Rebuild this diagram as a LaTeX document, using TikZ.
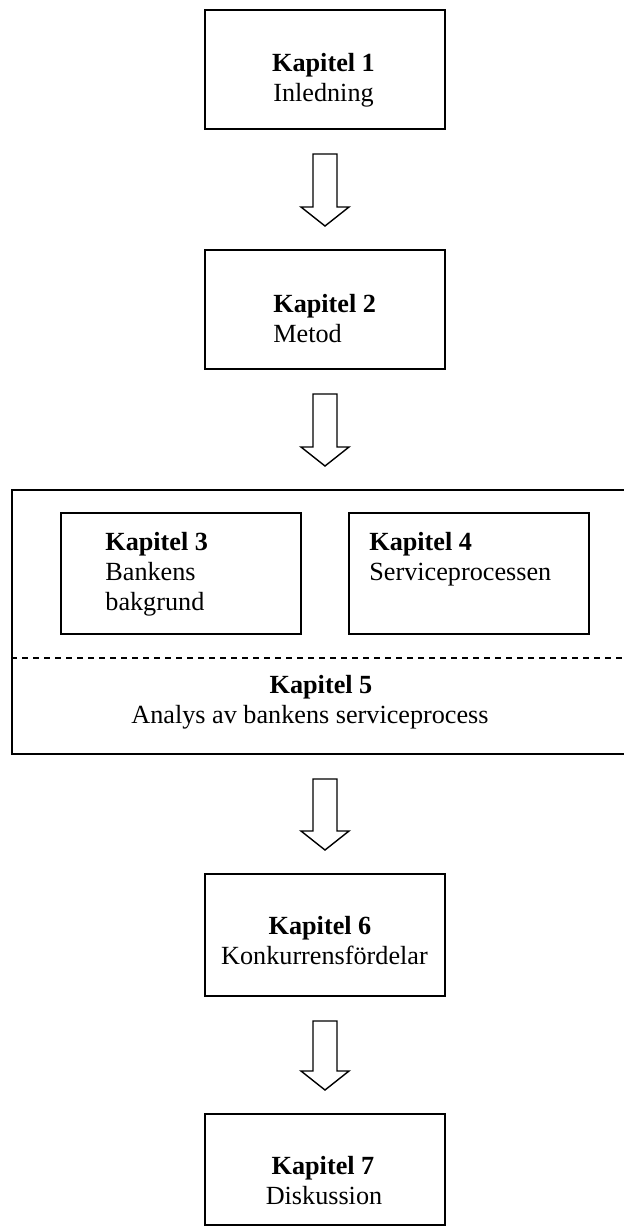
\documentclass[tikz,border=0pt]{standalone}
\usepackage{fontspec}
\setmainfont{Liberation Serif}
\usetikzlibrary{calc}

% block arrow between two stacked boxes (shaft 24, head 48 wide)
\newcommand\chapterarrow[2]{%
  \draw[blockarrow] ($(#1.south -| #2.north)+(-12,24)$) -- ++(24,0)
    -- ($(#2.north)+(12,-42)$) -- ++(12,0)
    -- ($(#2.north)+(0,-23)$)
    -- ($(#2.north)+(-24,-42)$) -- ++(12,0) -- cycle;}

\begin{document}
\begin{tikzpicture}[x=0.5pt,y=-0.5pt,
  chapbox/.style={draw,line width=1pt,inner sep=0pt,minimum width=120pt,minimum height=59.5pt},
  innerbox/.style={draw,line width=1pt,inner sep=0pt,minimum width=120pt,minimum height=60.5pt},
  blockarrow/.style={draw,line width=0.7pt,line join=miter,fill=white},
  mainlbl/.style={inner sep=0pt,anchor=base,font=\fontsize{13.1}{15}\selectfont},
  leftlbl/.style={mainlbl,anchor=base west}]

\clip (0,0) rectangle (624,1227);
\fill[white] (0,0) rectangle (624,1227);

% chapter boxes
\node[chapbox] (b1) at (325,69.5) {};
\node[chapbox] (b2) at (325,309.5) {};
\node[draw,line width=1pt,inner sep=0pt,minimum width=313pt,minimum height=132pt] (big) at (325,622) {};
\node[innerbox] (b3) at (181,573.5) {};
\node[innerbox] (b4) at (469,573.5) {};
\node[chapbox,minimum height=61pt] (b6) at (325,935) {};
\node[chapbox,minimum height=55.5pt] (b7) at (325,1169.5) {};

% divider between chapters 3/4 and chapter 5
\draw[line width=0.6pt,dash pattern=on 3pt off 2.5pt] (big.west |- 0,658) -- (big.east |- 0,658);

% labels
\node[mainlbl] (t1a) at (323.5,71) {\textbf{Kapitel 1}};
\node[mainlbl] (t1b) at (323.5,101) {Inledning};
\node[leftlbl] (t2a) at (273,312) {\textbf{Kapitel 2}};
\node[leftlbl] (t2b) at (273,342) {Metod};
\node[leftlbl] (t3a) at (105,550) {\textbf{Kapitel 3}};
\node[leftlbl] (t3b) at (105,580) {Bankens};
\node[leftlbl] (t3c) at (105,610) {bakgrund};
\node[leftlbl] (t4a) at (369,550) {\textbf{Kapitel 4}};
\node[leftlbl] (t4b) at (369,580) {Serviceprocessen};
\node[mainlbl] (t5a) at (321,693) {\textbf{Kapitel 5}};
\node[mainlbl] (t5b) at (310,723) {Analys av bankens serviceprocess};
\node[mainlbl] (t6a) at (320,934) {\textbf{Kapitel 6}};
\node[mainlbl] (t6b) at (324.5,964) {Konkurrensfördelar};
\node[mainlbl] (t7a) at (323,1174) {\textbf{Kapitel 7}};
\node[mainlbl] (t7b) at (324,1204) {Diskussion};

% arrows
\chapterarrow{b1}{b2}
\chapterarrow{b2}{big}
\chapterarrow{big}{b6}
\chapterarrow{b6}{b7}
\end{tikzpicture}
\end{document}
